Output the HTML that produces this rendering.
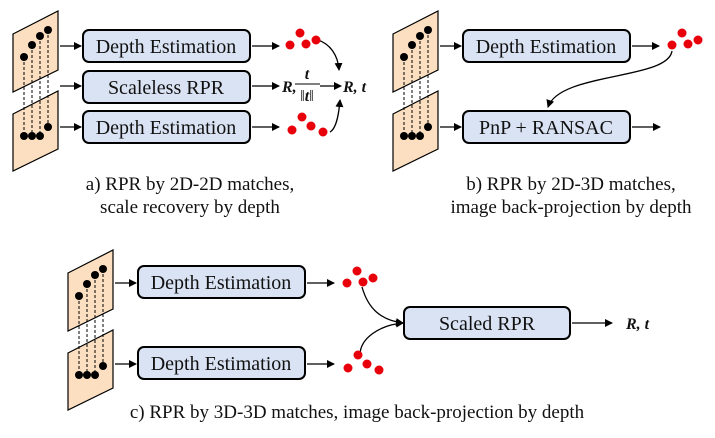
<!DOCTYPE html>
<html><head><meta charset="utf-8"><style>
html,body{margin:0;padding:0;background:#fff;}
svg{display:block;}
svg text{font-family:"Liberation Serif","Noto Serif CJK SC","DejaVu Serif",serif;}
</style></head><body>
<svg width="715" height="438" viewBox="0 0 715 438" xmlns="http://www.w3.org/2000/svg">
<defs>
<marker id="ah" markerWidth="8" markerHeight="8" refX="7" refY="4" orient="auto" markerUnits="userSpaceOnUse">
<path d="M0,0 L8,4 L0,8 Z" fill="#000"/></marker>
<g id="planes">
<polygon points="13,34 58,11 58,70 13,92" fill="#fbdfc0" stroke="#000" stroke-width="1.2"/>
<polygon points="13,114 58,91 58,149 13,171" fill="#fbdfc0" stroke="#000" stroke-width="1.2"/>
<g stroke="#000" stroke-width="1" stroke-dasharray="3,2">
<line x1="24" y1="57" x2="24" y2="136"/><line x1="32" y1="45" x2="32" y2="136"/>
<line x1="40" y1="36" x2="40" y2="136"/><line x1="48" y1="30" x2="48" y2="127"/>
</g>
<g fill="#000"><circle cx="24" cy="57" r="4"/><circle cx="32" cy="45" r="4"/><circle cx="40" cy="36" r="4"/><circle cx="48" cy="30" r="4"/>
<circle cx="24" cy="136" r="4"/><circle cx="32" cy="136" r="4"/><circle cx="40" cy="136" r="4"/><circle cx="48" cy="127" r="4"/></g>
</g>
<g id="dotsT" fill="#e8000b"><circle cx="0" cy="0" r="4.5"/><circle cx="10" cy="-12" r="4.5"/><circle cx="16" cy="-1" r="4.5"/><circle cx="26" cy="-5" r="4.5"/></g>
<g id="dotsB" fill="#e8000b"><circle cx="0" cy="0" r="4.5"/><circle cx="10" cy="-13" r="4.5"/><circle cx="19" cy="-4" r="4.5"/><circle cx="31" cy="2" r="4.5"/></g>
</defs>
<g fill="#dae3f3" stroke="#000" stroke-width="2">
<rect x="83" y="30" width="167" height="32" rx="6"/>
<rect x="83" y="71" width="167" height="32" rx="6"/>
<rect x="83" y="111" width="167" height="32" rx="6"/>
<rect x="463" y="30" width="167" height="32" rx="6"/>
<rect x="463" y="111" width="167" height="32" rx="6"/>
<rect x="138" y="266" width="167" height="32" rx="6"/>
<rect x="138" y="347" width="167" height="32" rx="6"/>
<rect x="404" y="307" width="166" height="32" rx="6"/>
</g>
<use href="#planes"/>
<use href="#planes" x="380"/>
<use href="#planes" x="55" y="239"/>
<g stroke="#000" stroke-width="1.3" fill="none" marker-end="url(#ah)">
<line x1="60" y1="46" x2="81" y2="46"/><line x1="60" y1="86" x2="81" y2="86"/><line x1="60" y1="127" x2="81" y2="127"/>
<line x1="252" y1="46" x2="279" y2="46"/><line x1="252" y1="86" x2="279" y2="86"/><line x1="252" y1="127" x2="279" y2="127"/>
<line x1="320" y1="86" x2="341" y2="86"/>
<path d="M318,40 C330,44 338,55 339,70"/>
<path d="M330,132 C337,128 339,112 340,100"/>
<line x1="440" y1="46" x2="461" y2="46"/><line x1="440" y1="127" x2="461" y2="127"/>
<line x1="632" y1="46" x2="659" y2="46"/><line x1="632" y1="127" x2="660" y2="127"/>
<path d="M672,51 C668,80 560,72 548,107"/>
<line x1="115" y1="283" x2="136" y2="283"/><line x1="115" y1="364" x2="136" y2="364"/>
<line x1="307" y1="283" x2="334" y2="283"/><line x1="307" y1="364" x2="334" y2="364"/>
<path d="M362,287 C368,308 380,320 403,323"/>
<path d="M360,355 C360,338 380,325 403,323"/>
<line x1="572" y1="323" x2="612" y2="323"/>
</g>
<use href="#dotsT" x="290" y="45"/>
<use href="#dotsB" x="292" y="130"/>
<use href="#dotsT" x="672" y="45"/>
<use href="#dotsT" x="347" y="283"/>
<use href="#dotsB" x="348" y="368"/>
<g font-size="20" text-anchor="middle" fill="#111">
<text x="166" y="53">Depth Estimation</text>
<text x="166" y="94">Scaleless RPR</text>
<text x="166" y="134">Depth Estimation</text>
<text x="546" y="53">Depth Estimation</text>
<text x="546" y="134">PnP + RANSAC</text>
<text x="221" y="289">Depth Estimation</text>
<text x="221" y="370">Depth Estimation</text>
<text x="487" y="330">Scaled RPR</text>
</g>
<g font-size="16" font-weight="bold" font-style="italic" fill="#111">
<text x="282" y="92">R,</text>
<text x="307" y="79" text-anchor="middle">t</text>
<line x1="295" y1="84" x2="320" y2="84" stroke="#000" stroke-width="1"/>
<text x="307" y="101" text-anchor="middle" font-weight="normal" font-style="normal">‖<tspan font-weight="bold" font-style="italic">t</tspan>‖</text>
<text x="343" y="92">R, t</text>
<text x="626" y="329">R, t</text>
</g>
<g font-size="19" text-anchor="middle" fill="#111">
<text x="190" y="190">a) RPR by 2D-2D matches,</text>
<text x="190" y="213">scale recovery by depth</text>
<text x="571" y="190">b) RPR by 2D-3D matches,</text>
<text x="571" y="213">image back-projection by depth</text>
<text x="357" y="418">c) RPR by 3D-3D matches, image back-projection by depth</text>
</g>
</svg>
</body></html>
